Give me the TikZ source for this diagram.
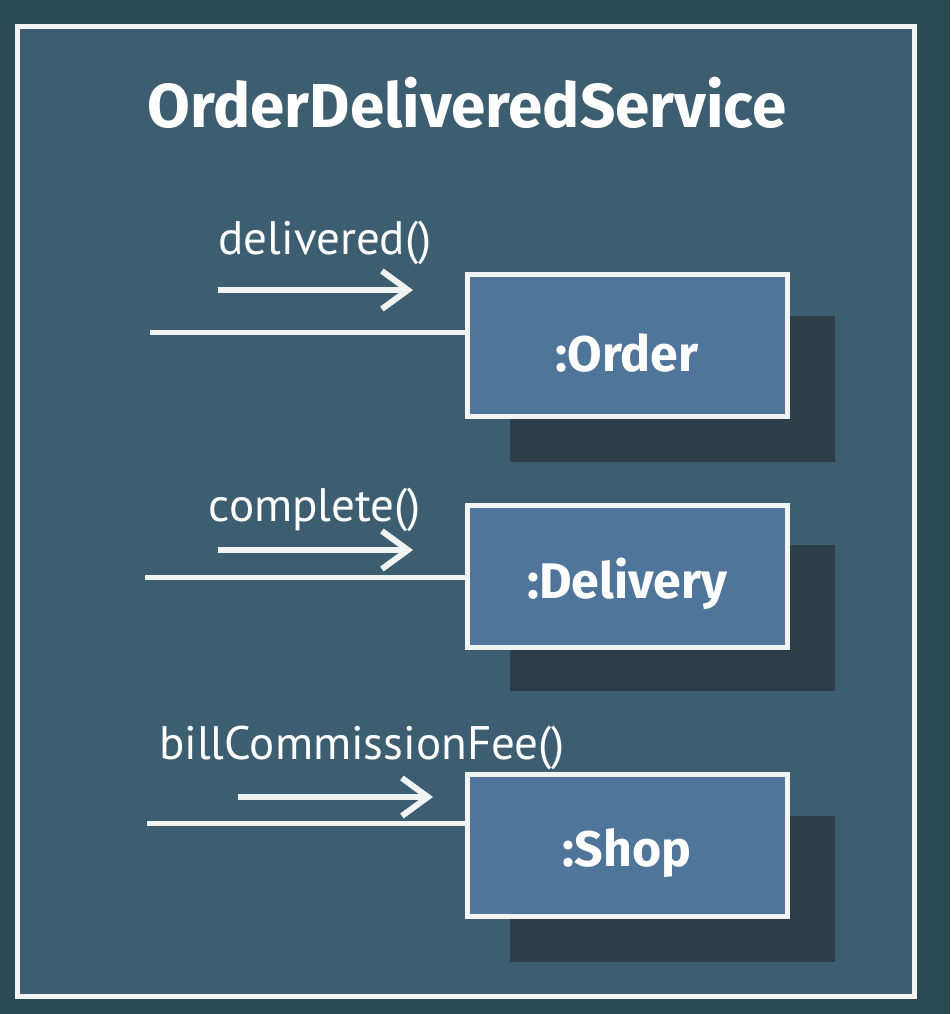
\documentclass[tikz,border=0pt]{standalone}
\usepackage{fontspec}
\setmainfont{PT Sans}
\newfontfamily\boxfont{Fira Sans}
\usetikzlibrary{arrows.meta}
\definecolor{bgout}{HTML}{2B4A56}
\definecolor{bgin}{HTML}{3C5E70}
\definecolor{boxfill}{HTML}{50759A}
\definecolor{shadowc}{HTML}{2D3E48}
\definecolor{edge}{HTML}{F2F4F4}
\newcommand{\boxtext}[1]{\raisebox{-8pt}[\height][\depth]{#1}}
\tikzset{
  objbox/.style={draw=edge, line width=5pt, fill=boxfill, minimum width=320pt, minimum height=142pt, inner sep=0pt, font=\boxfont\bfseries\fontsize{50}{54}\selectfont, text=white},
  shadowbox/.style={fill=shadowc, minimum width=325pt, minimum height=146pt, inner sep=0pt},
  msglabel/.style={font=\fontsize{47}{50}\selectfont, text=white},
  link/.style={draw=edge, line width=5pt},
  msgarrow/.style={draw=edge, line width=5.5pt, -{Straight Barb[length=26pt, width=38pt, line width=6pt]}}
}
\begin{document}
\begin{tikzpicture}[x=1pt, y=-1pt]
\useasboundingbox (0,0) rectangle (950,1014);
\fill[bgout] (0,0) rectangle (950,1014);
\draw[draw=edge, line width=5pt, fill=bgin] (17,27) rectangle (914,996);
\node[text=white, font=\boxfont\bfseries\fontsize{62}{66}\selectfont] (title) at (467,103) {OrderDeliveredService};

% shadows
\node[shadowbox] (sh1) at (672,389) {};
\node[shadowbox] (sh2) at (672,618) {};
\node[shadowbox] (sh3) at (672,889) {};

% boxes
\node[objbox] (order) at (627,345) {\boxtext{:Order}};
\node[objbox] (delivery) at (627,576) {\boxtext{:Delivery}};
\node[objbox] (shop) at (627,845) {\boxtext{:Shop}};

% links
\coordinate (l1) at (150,332);
\coordinate (l2) at (145,577);
\coordinate (l3) at (147,823);
\draw[link] (l1) -- (l1 -| order.west);
\draw[link] (l2) -- (l2 -| delivery.west);
\draw[link] (l3) -- (l3 -| shop.west);

% messages
\coordinate (a1s) at (218,290); \coordinate (a1e) at (413,290);
\coordinate (a2s) at (218,550); \coordinate (a2e) at (413,550);
\coordinate (a3s) at (238,797); \coordinate (a3e) at (433,797);
\draw[msgarrow] (a1s) -- (a1e);
\draw[msgarrow] (a2s) -- (a2e);
\draw[msgarrow] (a3s) -- (a3e);
\node[msglabel] (m1) at (325,243) {delivered()};
\node[msglabel] (m2) at (315,510) {complete()};
\node[msglabel] (m3) at (362,748) {billCommissionFee()};
\end{tikzpicture}
\end{document}
